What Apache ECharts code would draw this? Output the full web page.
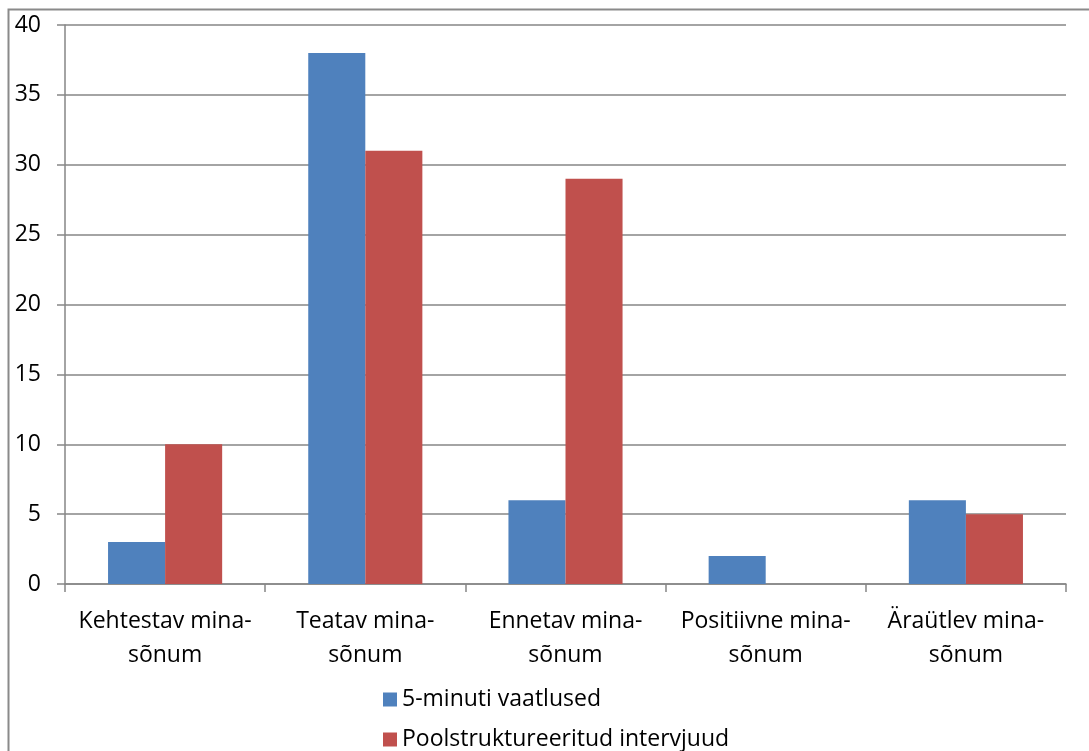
<!DOCTYPE html>
<html><head><meta charset="utf-8">
<script src="https://cdn.jsdelivr.net/npm/echarts@6/dist/echarts.min.js"></script>
<style>html,body{margin:0;padding:0;background:#fff}#c{width:1089px;height:751px}</style>
</head><body><div id="c"></div>
<script>
const categories = ["Kehtestav mina-\nsõnum", "Teatav mina-\nsõnum", "Ennetav mina-\nsõnum", "Positiivne mina-\nsõnum", "Äraütlev mina-\nsõnum"];
const seriesNames = ["5-minuti vaatlused", "Poolstruktureeritud intervjuud"];
const vaatlused = [3, 38, 6, 2, 6];
const intervjuud = [10, 31, 29, 0, 5];

const chart = echarts.init(document.getElementById('c'));
const font = "'Open Sans', 'Liberation Sans', sans-serif";
const legendBase = {
  orient: 'vertical', left: 383, itemWidth: 14, itemHeight: 14, icon: 'rect', padding: 0,
  textStyle: { fontSize: 23, color: '#000', fontFamily: font }
};
chart.setOption({
  animation: false,
  textStyle: { fontFamily: font },
  graphic: [{
    type: 'rect', shape: { x: 8.5, y: 9.5, width: 1200, height: 1000 },
    style: { fill: 'none', stroke: '#8a8a8a', lineWidth: 2 }, silent: true
  }],
  grid: { left: 65, top: 25, right: 23, bottom: 167, containLabel: false },
  legend: [
    Object.assign({}, legendBase, { top: 688, data: [seriesNames[0]] }),
    Object.assign({}, legendBase, { top: 728, data: [seriesNames[1]] })
  ],
  xAxis: {
    type: 'category', data: categories,
    axisLine: { lineStyle: { color: '#868686', width: 1.5 } },
    axisTick: { show: true, length: 8, lineStyle: { color: '#868686', width: 1.5 } },
    axisLabel: { interval: 0, fontSize: 23, color: '#000', lineHeight: 34, margin: 20, fontFamily: font }
  },
  yAxis: {
    type: 'value', min: 0, max: 40, interval: 5,
    axisLine: { show: true, lineStyle: { color: '#868686', width: 1.5 } },
    axisTick: { show: true, length: 8, lineStyle: { color: '#868686', width: 1.5 } },
    splitLine: { lineStyle: { color: '#868686', width: 1.5 } },
    axisLabel: { fontSize: 23, color: '#000', margin: 24, fontFamily: font }
  },
  series: [
    { name: seriesNames[0], type: 'bar', data: vaatlused, barGap: '0%', barCategoryGap: '43%', itemStyle: { color: '#4F81BD' } },
    { name: seriesNames[1], type: 'bar', data: intervjuud, itemStyle: { color: '#C0504D' } }
  ]
});
</script></body></html>
